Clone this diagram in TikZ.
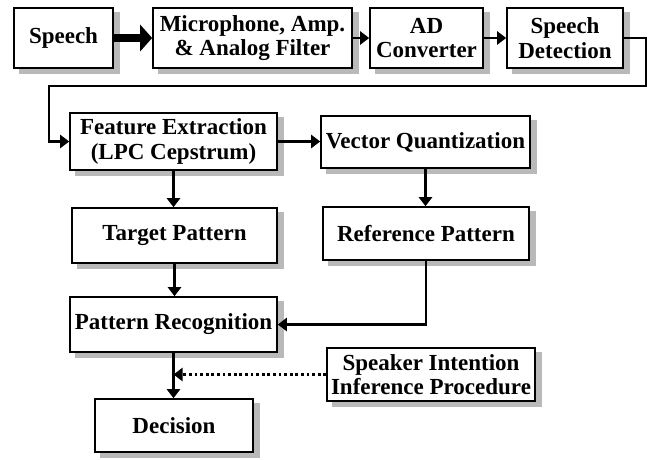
\documentclass[tikz,border=0pt]{standalone}
\usepackage{fontspec}
\setmainfont{Liberation Serif}
\usetikzlibrary{arrows.meta,backgrounds}

\begin{document}
\begin{tikzpicture}[x=1pt, y=-1pt,
	blk/.style={draw, line width=1.6, fill=white, inner sep=0, align=center,
		font=\fontsize{23}{24.5}\selectfont\bfseries},
	conn/.style={-{Triangle[length=9pt,width=13pt]}, line width=2.5}]
	\useasboundingbox (0,0) rectangle (648,459);

	% top row
	\node[blk, minimum width=99, minimum height=60] (sp) at (63.5,38) {Speech};
	\node[blk, minimum width=199, minimum height=60] (mic) at (252.5,38) {Microphone, Amp.\\ \& Analog Filter};
	\node[blk, minimum width=113, minimum height=60] (ad) at (426.5,38) {AD\\ Converter};
	\node[blk, minimum width=116, minimum height=60] (sd) at (565,38) {Speech\\ Detection};

	\node[blk, minimum width=207, minimum height=57] (fe) at (173.5,141.5) {Feature Extraction\\ (LPC Cepstrum)};
	\node[blk, minimum width=209, minimum height=52] (vq) at (425.5,142) {Vector Quantization};
	\node[blk, minimum width=205, minimum height=55] (tp) at (174.5,235.5) {Target Pattern};
	\node[blk, minimum width=206, minimum height=53] (rp) at (426,233.5) {Reference Pattern};
	\node[blk, minimum width=207, minimum height=55] (pr) at (173.5,324.5) {Pattern Recognition};
	\node[blk, minimum width=208, minimum height=53] (si) at (431,374.5) {Speaker Intention\\ Inference Procedure};
	\node[blk, minimum width=158, minimum height=53] (dec) at (174,425.5) {Decision};

	% shadows
	\begin{scope}[on background layer]
		\foreach \n in {sp,mic,ad,sd,fe,vq,tp,rp,pr,si,dec}
			\fill[gray!55] ([xshift=6pt,yshift=-5pt]\n.south west) rectangle ([xshift=6pt,yshift=-5pt]\n.north east);
	\end{scope}

	\draw[-{Triangle[length=12pt,width=26pt]}, line width=8] (sp) -- (mic);
	\draw[conn] (mic) -- (ad);
	\draw[conn] (ad) -- (sd);
	\draw[conn] (sd.east) -- ++(22,0) |- (49,86) |- (fe.west);
	\draw[conn] (fe.east) -- (vq.west |- fe.east);
	\draw[conn] (fe.south) -- (fe.south |- tp.north);
	\draw[conn] (vq.south) -- (vq.south |- rp.north);
	\draw[conn] (tp.south) -- (tp.south |- pr.north);
	\draw[conn] (rp.south) |- (pr.east);
	\draw[conn] (pr.south) -- (pr.south |- dec.north);
	\draw[conn, line width=2.8, dash pattern=on 2.8pt off 2.8pt] (si.west) -- (pr.south |- si.west);
\end{tikzpicture}
\end{document}
